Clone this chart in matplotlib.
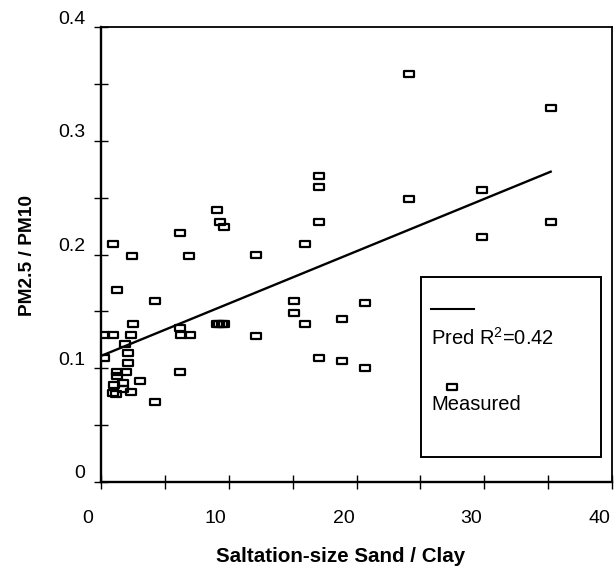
import matplotlib
matplotlib.use('Agg')
import matplotlib.pyplot as plt
from matplotlib.path import Path
from matplotlib.transforms import ScaledTranslation
from matplotlib.lines import Line2D
from matplotlib.patches import Rectangle

plt.rcParams['font.family'] = ['Liberation Sans', 'DejaVu Sans']
plt.rcParams['mathtext.fontset'] = 'custom'
plt.rcParams['mathtext.rm'] = 'Liberation Sans'

# ---- data ----
sand_clay = [6.17, 0.91, 2.45, 6.90, 1.27, 4.22, 2.48, 0.23, 0.96, 2.34,
             6.17, 6.25, 6.95, 1.88, 2.09, 0.23, 2.13, 1.23, 1.93, 6.17,
             1.23, 3.05, 1.74, 1.02, 1.74, 0.96, 1.15, 2.34, 4.22,
             17.1, 17.1, 9.09, 9.30, 9.63, 17.05, 16.0, 12.16, 15.08, 20.7,
             15.08, 18.83, 16.0, 9.05, 9.25, 9.45, 9.65, 12.16, 17.1, 18.83,
             20.7,
             24.14, 35.2, 24.09, 29.8, 35.2, 29.8]
pm_ratio = [0.219, 0.209, 0.199, 0.199, 0.169, 0.159, 0.139, 0.129, 0.129, 0.129,
            0.135, 0.129, 0.129, 0.121, 0.113, 0.109, 0.105, 0.097, 0.097, 0.097,
            0.093, 0.089, 0.087, 0.085, 0.082, 0.078, 0.077, 0.079, 0.070,
            0.269, 0.259, 0.239, 0.229, 0.224, 0.229, 0.209, 0.200, 0.159, 0.157,
            0.149, 0.143, 0.139, 0.139, 0.139, 0.139, 0.139, 0.128, 0.109, 0.106,
            0.100,
            0.359, 0.329, 0.249, 0.257, 0.229, 0.215]
pred_x = [0.15, 35.2]
pred_y = [0.1115, 0.2728]

x_major = [0, 10, 20, 30, 40]
x_minor = [5, 15, 25, 35]
x_labels = ['0', '10', '20', '30', '40']
y_major = [0, 0.1, 0.2, 0.3, 0.4]
y_minor = [0.05, 0.15, 0.25, 0.35]
y_labels = ['0', '0.1', '0.2', '0.3', '0.4']

W, H = 614, 574
fig = plt.figure(figsize=(W / 100, H / 100), dpi=100)
L, R, T, B = 101, 612, 27, 482
ax = fig.add_axes([L / W, 1 - B / H, (R - L) / W, (B - T) / H])

rect = Path([(-1, -0.72), (1, -0.72), (1, 0.72), (-1, 0.72), (-1, -0.72)],
            [Path.MOVETO, Path.LINETO, Path.LINETO, Path.LINETO, Path.CLOSEPOLY])

ax.plot(sand_clay, pm_ratio, linestyle='none', marker=rect, markersize=6.5,
        markerfacecolor='none', markeredgecolor='black', markeredgewidth=1.6)
ax.plot(pred_x, pred_y, color='black', lw=1.7)

ax.set_xlim(0, 40)
ax.set_ylim(0, 0.4)
ax.set_xticks(x_major, x_labels)
ax.set_xticks(x_minor, minor=True)
ax.set_yticks(y_major, y_labels)
ax.set_yticks(y_minor, minor=True)
ax.tick_params(which='both', direction='inout', length=9.5, width=1.0, color='black')
ax.tick_params(axis='x', which='major', pad=15.5, labelsize=14)
ax.tick_params(axis='y', which='major', pad=6.5, labelsize=14)

for s in ['left', 'bottom']:
    ax.spines[s].set_linewidth(1.7)
for s in ['top', 'right']:
    ax.spines[s].set_linewidth(1.3)

for lbl in ax.get_xticklabels():
    lbl.set_transform(lbl.get_transform() + ScaledTranslation(-0.13, 0, fig.dpi_scale_trans))
for lbl in ax.get_yticklabels():
    lbl.set_transform(lbl.get_transform() + ScaledTranslation(0, 0.10, fig.dpi_scale_trans))

ax.set_xlabel('Saltation-size Sand / Clay', fontsize=14.8, fontweight='bold')
ax.set_ylabel('PM2.5 / PM10', fontsize=13.8, fontweight='bold')
ax.xaxis.set_label_coords(341 / W, 1 - 557 / H, transform=fig.transFigure)
ax.xaxis.label.set_verticalalignment('center')
ax.yaxis.set_label_coords(28 / W, 1 - 255 / H, transform=fig.transFigure)
ax.yaxis.label.set_verticalalignment('center')

# ---- legend box (manual layout: sample above label) ----
def P(x, y):
    return (x / W, 1 - y / H)

fig.add_artist(Rectangle(P(421, 457), 180 / W, 180 / H, transform=fig.transFigure,
                         fill=False, edgecolor='black', lw=1.4))
fig.add_artist(Line2D([431 / W, 474 / W], [1 - 309 / H] * 2, transform=fig.transFigure,
                      color='black', lw=1.5))
fig.text(*P(431, 338), 'Pred R$^{2}$=0.42', va='center', ha='left', fontsize=14.5)
fig.add_artist(Line2D([452 / W], [1 - 387 / H], transform=fig.transFigure, linestyle='none',
                      marker=rect, markersize=6.5, markerfacecolor='none',
                      markeredgecolor='black', markeredgewidth=1.6))
fig.text(*P(431, 405), 'Measured', va='center', ha='left', fontsize=14.5)

fig.savefig('out.png', dpi=100)
